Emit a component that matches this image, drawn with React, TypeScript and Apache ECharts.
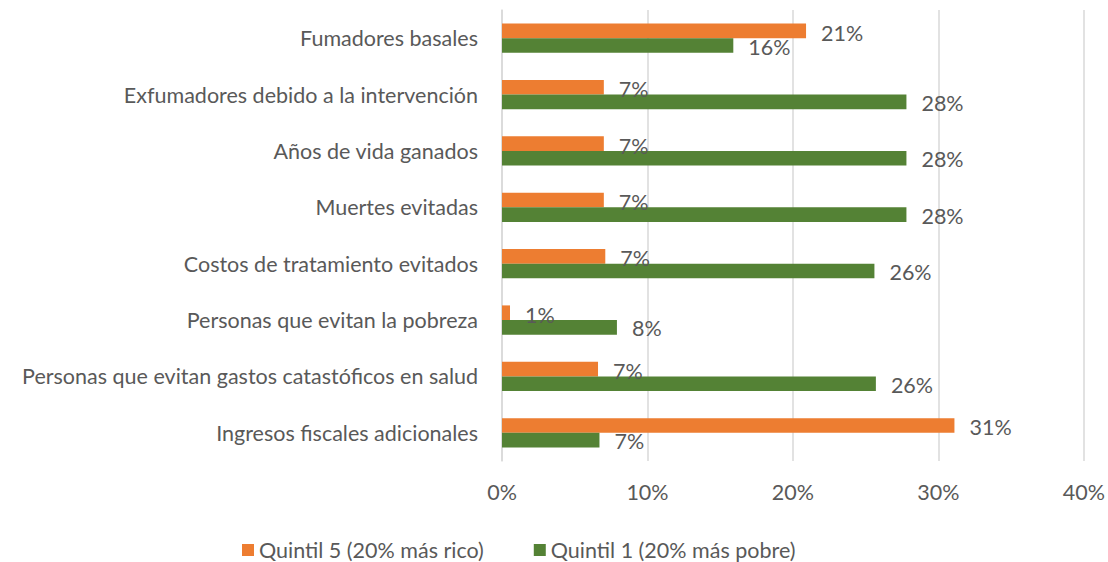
import React, { useEffect, useRef } from "react";
import * as echarts from "echarts";

const categories = [
  "Fumadores basales",
  "Exfumadores debido a la intervención",
  "Años de vida ganados",
  "Muertes evitadas",
  "Costos de tratamiento evitados",
  "Personas que evitan la pobreza",
  "Personas que evitan gastos catastóficos en salud",
  "Ingresos fiscales adicionales",
];
const quintil5 = [20.9, 7.0, 7.0, 7.0, 7.1, 0.55, 6.6, 31.1];
const quintil1 = [15.9, 27.8, 27.8, 27.8, 25.6, 7.9, 25.7, 6.7];
const xTicks = [0, 10, 20, 30, 40];

const FONT = "Lato";
const TXT = "#595959";
const FS = 21.5;

export default function App() {
  const ref = useRef<HTMLDivElement>(null);
  useEffect(() => {
    document.body.style.margin = "0";
    const chart = echarts.init(ref.current!, null, { renderer: "svg" });
    const label = (dy: number) => ({
      show: true,
      position: "right" as const,
      distance: 15,
      offset: [0, dy],
      color: TXT,
      fontSize: FS,
      fontFamily: FONT,
      formatter: (p: any) => Math.round(p.value) + "%",
    });
    chart.setOption({
      animation: false,
      textStyle: { fontFamily: FONT },
      grid: { left: 502, right: 22, top: 10, bottom: 101, containLabel: false },
      legend: {
        data: ["Quintil 5 (20% más rico)", "Quintil 1 (20% más pobre)"],
        left: 242,
        top: 539,
        padding: 0,
        icon: "rect",
        itemWidth: 12,
        itemHeight: 12,
        itemGap: 50,
        textStyle: { color: TXT, fontSize: 21.5, fontFamily: FONT, lineHeight: 22 },
      },
      xAxis: {
        type: "value",
        min: xTicks[0],
        max: xTicks[xTicks.length - 1],
        interval: 10,
        axisLabel: {
          formatter: (v: number) => v + "%",
          color: TXT,
          fontSize: FS,
          fontFamily: FONT,
          margin: 20,
        },
        axisLine: { show: false },
        axisTick: { show: false },
        splitLine: { show: true, lineStyle: { color: "#d9d9d9", width: 1.5 } },
      },
      yAxis: {
        type: "category",
        data: categories,
        inverse: true,
        axisLabel: { color: TXT, fontSize: FS, fontFamily: FONT, margin: 24 },
        axisTick: { show: false },
        axisLine: { show: true, lineStyle: { color: "#d9d9d9", width: 1.5 } },
      },
      series: [
        {
          name: "Quintil 5 (20% más rico)",
          type: "bar",
          data: quintil5,
          itemStyle: { color: "#ED7D31" },
          barGap: "0%",
          barCategoryGap: "48%",
          label: label(2),
        },
        {
          name: "Quintil 1 (20% más pobre)",
          type: "bar",
          data: quintil1,
          itemStyle: { color: "#548235" },
          barGap: "0%",
          barCategoryGap: "48%",
          label: label(1),
        },
      ],
    });
    return () => chart.dispose();
  }, []);
  return (
    <div
      ref={ref}
      style={{ position: "absolute", left: 0, top: 0, width: 1108, height: 562 }}
    />
  );
}
